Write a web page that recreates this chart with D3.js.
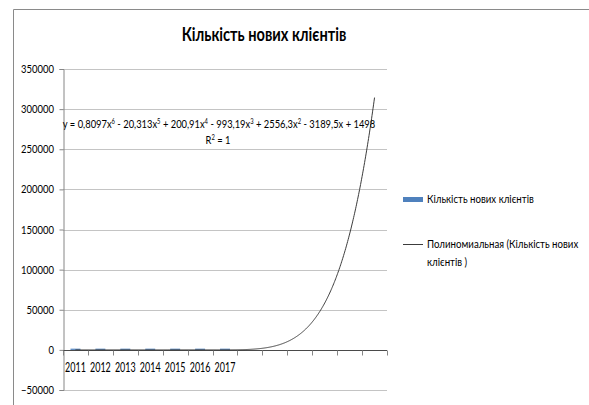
<!DOCTYPE html>
<html>
<head>
<meta charset="utf-8">
<script src="https://cdn.jsdelivr.net/npm/d3@7/dist/d3.min.js"></script>
<style>
  html, body { margin: 0; padding: 0; background: #fff; }
  svg { display: block; }
  text { font-family: Lato, "Open Sans", "Noto Sans", sans-serif; fill: #000; }
</style>
</head>
<body>
<script>
// Annual new-client counts and the 6th-degree polynomial trend fitted to them
const years = ["2011", "2012", "2013", "2014", "2015", "2016", "2017"];
const newClients = [53, 15, 48, 26, 51, 62, 11];
const forecastPeriods = 6;
// trend coefficients, constant term first
const trendCoefficients = [1498, -3189.5, 2556.3, -993.19, 200.91, -20.313, 0.8097];
const rSquared = 1;
const yTicks = [-50000, 0, 50000, 100000, 150000, 200000, 250000, 300000, 350000];

const title = "Кількість нових клієнтів";
const seriesName = "Кількість нових клієнтів";
const trendName = ["Полиномиальная (Кількість нових", "клієнтів )"];

const W = 589, H = 405;
const plot = { left: 63, right: 387, top: 69, bottom: 390 };

const svg = d3.select("body").append("svg").attr("width", W).attr("height", H);
svg.append("rect").attr("width", W).attr("height", H).attr("fill", "#fff");

// chart frame
svg.append("path")
  .attr("d", `M13.5,${H} V9.5 H${W}`)
  .attr("fill", "none").attr("stroke", "#8a8a8a").attr("stroke-width", 1);

// helper: horizontally condensed text
function txt(g, x, y, s, size, sx, anchor, weight) {
  return g.append("text")
    .attr("transform", `translate(${x},${y}) scale(${sx},1)`)
    .attr("text-anchor", anchor || "start")
    .attr("font-size", size)
    .attr("font-weight", weight || "normal")
    .text(s);
}

const nCats = years.length + forecastPeriods;
const x = d3.scaleBand().domain(d3.range(1, nCats + 1)).range([plot.left, plot.right]).paddingInner(0).paddingOuter(0);
const y = d3.scaleLinear().domain([yTicks[0], yTicks[yTicks.length - 1]]).range([plot.bottom, plot.top]);
const xc = i => x(i) + x.bandwidth() / 2;   // centre of category i (1-based)

// gridlines
svg.append("g").selectAll("line").data(yTicks).join("line")
  .attr("x1", plot.left).attr("x2", plot.right)
  .attr("y1", d => Math.round(y(d)) + 0.5).attr("y2", d => Math.round(y(d)) + 0.5)
  .attr("stroke", "#c4c4c4").attr("stroke-width", 1);

// value axis
const yAxis = svg.append("g").attr("transform", `translate(${plot.left + 0.5},0)`)
  .call(d3.axisLeft(y).tickValues(yTicks).tickSize(4).tickFormat(d3.format("d")));
yAxis.select(".domain").attr("stroke", "#868686");
yAxis.selectAll(".tick line").attr("stroke", "#868686");
yAxis.selectAll(".tick text").remove();
yTicks.forEach(t => txt(svg, 54, y(t) + 4, d3.format("d")(t), 12, 0.79, "end"));

// bars
const barW = x.bandwidth() / 2.5;
svg.append("g").selectAll("rect").data(newClients).join("rect")
  .attr("x", (d, i) => xc(i + 1) - barW / 2)
  .attr("width", barW)
  .attr("y", d => Math.min(y(d), y(0) - 1.2))
  .attr("height", d => Math.max(y(0) - y(d), 1.2))
  .attr("fill", "#4f81bd");

// category axis along zero
const zeroY = Math.round(y(0)) + 0.5;
const xAxisG = svg.append("g");
xAxisG.append("line").attr("x1", plot.left).attr("x2", plot.right)
  .attr("y1", zeroY).attr("y2", zeroY).attr("stroke", "#4a4a4a");
xAxisG.selectAll("line.tk").data(d3.range(0, nCats + 1)).join("line").attr("class", "tk")
  .attr("x1", i => Math.round(plot.left + i * x.bandwidth()) + 0.5)
  .attr("x2", i => Math.round(plot.left + i * x.bandwidth()) + 0.5)
  .attr("y1", zeroY).attr("y2", zeroY + 5).attr("stroke", "#868686");
years.forEach((yr, i) => txt(svg, xc(i + 1), 372, yr, 14, 0.64, "middle"));

// polynomial trend line, extended forward by the forecast periods
const poly = t => trendCoefficients.reduce((s, c, k) => s + c * Math.pow(t, k), 0);
const tVals = d3.range(1, nCats + 0.001, 0.02);
const tx = d3.scaleLinear().domain([1, nCats]).range([xc(1), xc(nCats)]);
svg.append("path")
  .datum(tVals)
  .attr("d", d3.line().x(t => tx(t)).y(t => y(poly(t))))
  .attr("fill", "none").attr("stroke", "#3c3c3c").attr("stroke-width", 1);

// trend equation and R²
const fmt = v => String(Math.abs(v)).replace(".", ",");
const eq = svg.append("text")
  .attr("transform", `translate(219,128) scale(0.78,1)`)
  .attr("text-anchor", "middle").attr("font-size", 12);
eq.append("tspan").text("y = ");
let lift = 0;
for (let k = trendCoefficients.length - 1; k >= 0; k--) {
  const c = trendCoefficients[k];
  let s = (k === trendCoefficients.length - 1) ? "" : (c < 0 ? " - " : " + ");
  s += fmt(c) + (k > 0 ? "x" : "");
  eq.append("tspan").attr("dy", lift).text(s);
  lift = 0;
  if (k > 1) {
    eq.append("tspan").attr("dy", -4).attr("font-size", 7.5).text(k);
    lift = 4;
  }
}
const r2 = svg.append("text")
  .attr("transform", `translate(218,144) scale(0.78,1)`)
  .attr("text-anchor", "middle").attr("font-size", 12);
r2.append("tspan").text("R");
r2.append("tspan").attr("dy", -4).attr("font-size", 7.5).text("2");
r2.append("tspan").attr("dy", 4).text(" = " + rSquared);

// title
txt(svg, 264, 41, title, 18.5, 0.79, "middle", "bold");

// legend
svg.append("rect").attr("x", 403).attr("y", 197).attr("width", 20).attr("height", 5).attr("fill", "#4f81bd");
txt(svg, 427, 203, seriesName, 11, 0.88, "start");
svg.append("line").attr("x1", 403).attr("x2", 423).attr("y1", 244.5).attr("y2", 244.5)
  .attr("stroke", "#3c3c3c");
txt(svg, 427, 248, trendName[0], 11, 0.88, "start");
txt(svg, 427, 266, trendName[1], 11, 0.88, "start");
</script>
</body>
</html>
